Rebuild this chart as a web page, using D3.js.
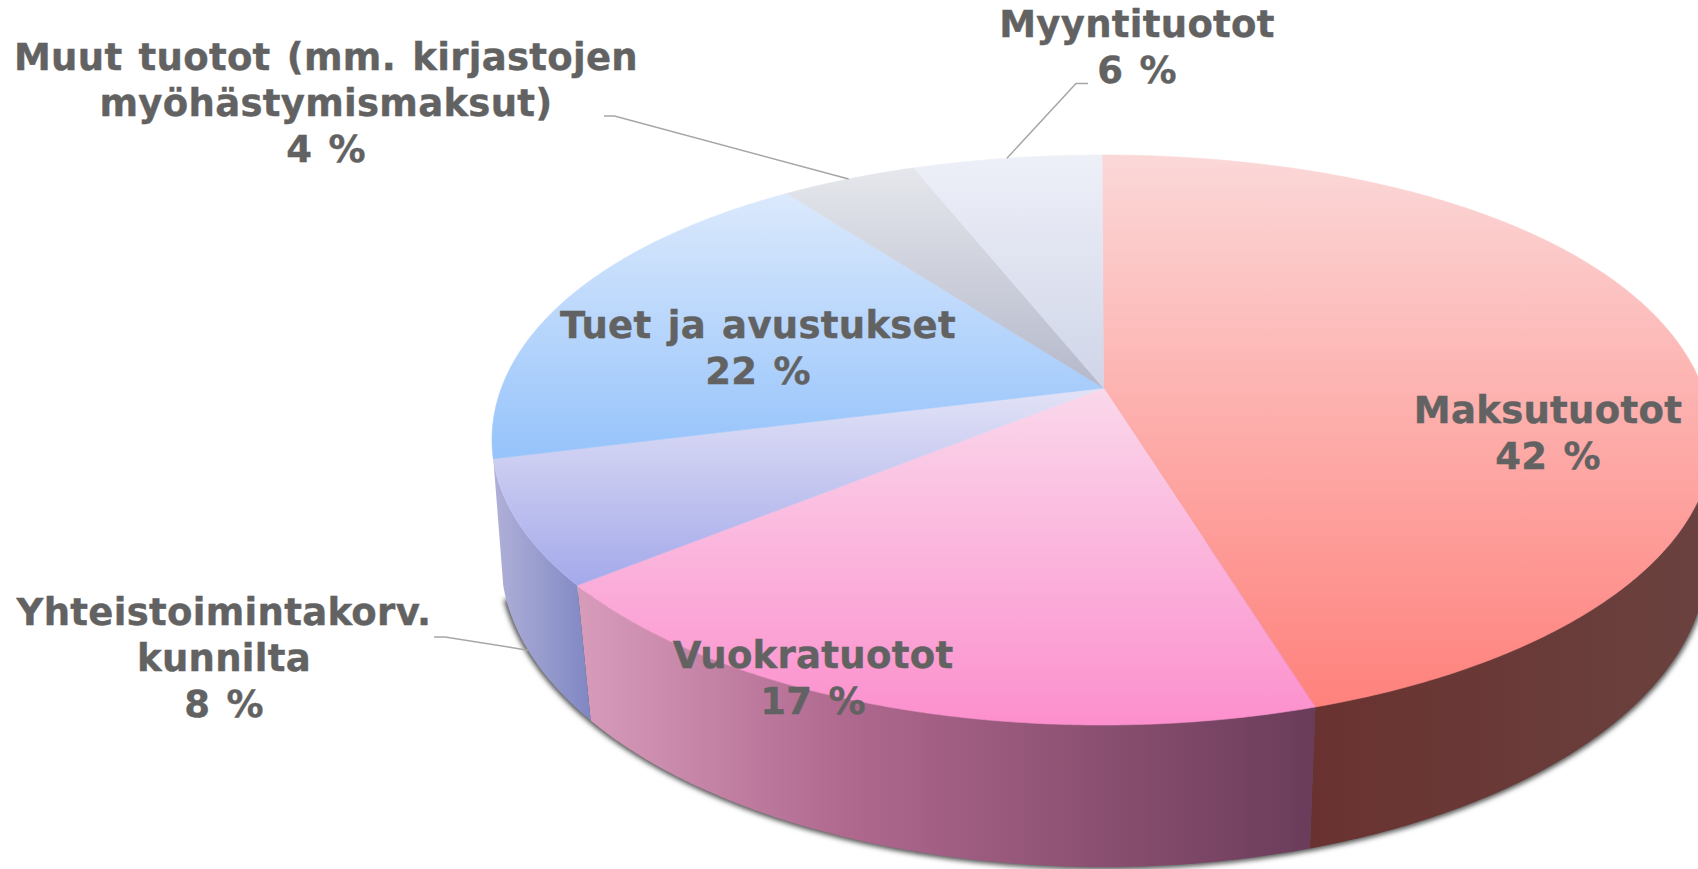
<!DOCTYPE html>
<html>
<head>
<meta charset="utf-8">
<script src="https://cdn.jsdelivr.net/npm/d3@7"></script>
<style>
    body { margin: 0; background: #fff; overflow: hidden; }
    svg { display: block; }
    text { font-family: "DejaVu Sans", Verdana, sans-serif; font-weight: bold; font-size: 37px; word-spacing: 3px; letter-spacing: 0.3px; fill: #626262; stroke: #626262; stroke-width: 0.4px; text-anchor: middle; }
</style>
</head>
<body>
<div id="chart"></div>
<script>
// chart data, clockwise from 12 o'clock
const categories = ["Maksutuotot", "Vuokratuotot", "Yhteistoimintakorv.|kunnilta", "Tuet ja avustukset", "Muut tuotot (mm. kirjastojen|myöhästymismaksut)", "Myyntituotot"];
const shares = [42, 17, 8, 22, 4, 6];

// top face gradient (far -> near) and wall gradient (left -> right)
const topColors = [["#fbd8d8", "#ff817c"], ["#fad8eb", "#fc8fcd"], ["#e2e2f6", "#a4a9ea"], ["#dbe9fc", "#95c3fb"], ["#e5e7ec", "#b4b8ca"], ["#eef0f8", "#cfd5e8"]];
const wallColors = [
    [[0, "#693230"], [100, "#6a423f"]],
    [[0, "#d89cbb"], [36, "#b0698f"], [76, "#854c6c"], [100, "#6a3c5a"]],
    [[0, "#b0b0d8"], [100, "#7f87c3"]]
];

// label placement: centre x, first baseline
const labelPos = [[1548, 423], [813, 668], [224, 625], [758, 338], [326, 70], [1137, 37]];
const lineHeight = 46;

// top rim and bottom rim ellipses of the disc
const topRim = {cx: 1102, cy: 440, rx: 610, ry: 285, bulge: 0.01};
const bottomRim = {cx: 1104, cy: 559, rx: 603, ry: 308, bulge: 0};
const apex = [1103.5, 388];

// the 3d perspective stretches the near side, so pie degrees -> degrees on the rim
const rimAngle = d3.scaleLinear()
    .domain([0, 152.7, 214.5, 243.6, 323.6, 338.2, 360])
    .range([0, 159.5, 239.3, 266.2, 329.1, 342.1, 360]);

// bottom rim lags a bit behind the top one on the left
const bottomAngle = d3.scaleLinear()
    .domain([80, 159.5, 239.3, 266.2])
    .range([80, 160, 238.3, 265]);

const deg = d => d * 180 / Math.PI;

function onRim(rim, a) {
    let s = Math.sin(a * Math.PI / 180), c = Math.cos(a * Math.PI / 180);
    // the far half of the face is a little fuller than an ellipse
    let k = c > 0 ? 1 + rim.bulge * Math.pow(2 * s * c, 2) : 1;
    return [rim.cx + rim.rx * s * k, rim.cy - rim.ry * c * k];
}

const sweep = (a0, a1) => d3.range(a0, a1, 0.5).concat(a1);

const width = 1698, height = 869;
const line = d3.line();

const svg = d3.select("#chart").append("svg")
    .attr("width", width)
    .attr("height", height);

const defs = svg.append("defs");

defs.append("filter")
    .attr("id", "blur")
    .attr("x", "-5%").attr("y", "-5%")
    .attr("width", "110%").attr("height", "110%")
    .append("feGaussianBlur")
    .attr("stdDeviation", 2.5);

topColors.forEach((c, i) => {
    let g = defs.append("linearGradient")
        .attr("id", "top-" + i)
        .attr("x1", 0).attr("y1", 0)
        .attr("x2", 0).attr("y2", 1);
    g.append("stop").attr("offset", "0%").attr("stop-color", c[0]);
    g.append("stop").attr("offset", "100%").attr("stop-color", c[1]);
});

wallColors.forEach((stops, i) => {
    let g = defs.append("linearGradient")
        .attr("id", "wall-" + i)
        .attr("x1", 0).attr("y1", 0)
        .attr("x2", 1).attr("y2", 0);
    stops.forEach(s => {
        g.append("stop").attr("offset", s[0] + "%").attr("stop-color", s[1]);
    });
});

const pie = d3.pie().sort(null).value(d => d);
const slices = pie(shares).map((d, i) => ({
    i: i,
    a0: rimAngle(deg(d.startAngle)),
    a1: rimAngle(deg(d.endAngle))
}));

// soft shadow under the bottom rim only
svg.append("path")
    .attr("d", line(sweep(80, 262).map(a => onRim(bottomRim, a))) + "Z")
    .attr("fill", "#555")
    .attr("stroke", "#555")
    .attr("stroke-width", 5)
    .attr("filter", "url(#blur)");

// walls: only the slices on the near side show one (red runs on past the edge of the page)
const walls = svg.append("g");
slices.filter(d => d.i < 3).forEach(d => {
    let a0 = d.i === 0 ? 80 : d.a0;
    let pts = sweep(a0, d.a1).map(a => onRim(topRim, a))
        .concat(sweep(bottomAngle(a0), bottomAngle(d.a1)).reverse().map(a => onRim(bottomRim, a)));
    walls.append("path")
        .attr("d", line(pts) + "Z")
        .attr("fill", `url(#wall-${d.i})`);
});

// top face, straight edges meet at the apex
svg.append("g").selectAll("path")
    .data(slices)
    .join("path")
    .attr("d", d => line([apex].concat(sweep(d.a0, d.a1).map(a => onRim(topRim, a)))) + "Z")
    .attr("fill", d => `url(#top-${d.i})`)
    .attr("stroke", d => `url(#top-${d.i})`)
    .attr("stroke-width", 0.6);

// leader lines: label side elbow, then to the slice
const leaders = [
    {slice: 2, from: [[434, 637], [445, 637]], rim: bottomRim},
    {slice: 4, from: [[604, 116], [614.5, 116]], rim: topRim},
    {slice: 5, from: [[1088, 83.5], [1076, 83.5]], rim: topRim}
];
svg.append("g").selectAll("path")
    .data(leaders)
    .join("path")
    .attr("d", d => {
        let s = slices[d.slice];
        return line(d.from.concat([onRim(d.rim, (s.a0 + s.a1) / 2)]));
    })
    .attr("fill", "none")
    .attr("stroke", "#a6a6a6")
    .attr("stroke-width", 1.5);

// labels
const labels = svg.append("g");
categories.forEach((c, i) => {
    let rows = c.split("|").concat([shares[i] + " %"]);
    rows.forEach((r, j) => {
        labels.append("text")
            .attr("x", labelPos[i][0])
            .attr("y", labelPos[i][1] + j * lineHeight)
            .text(r);
    });
});
</script>
</body>
</html>
